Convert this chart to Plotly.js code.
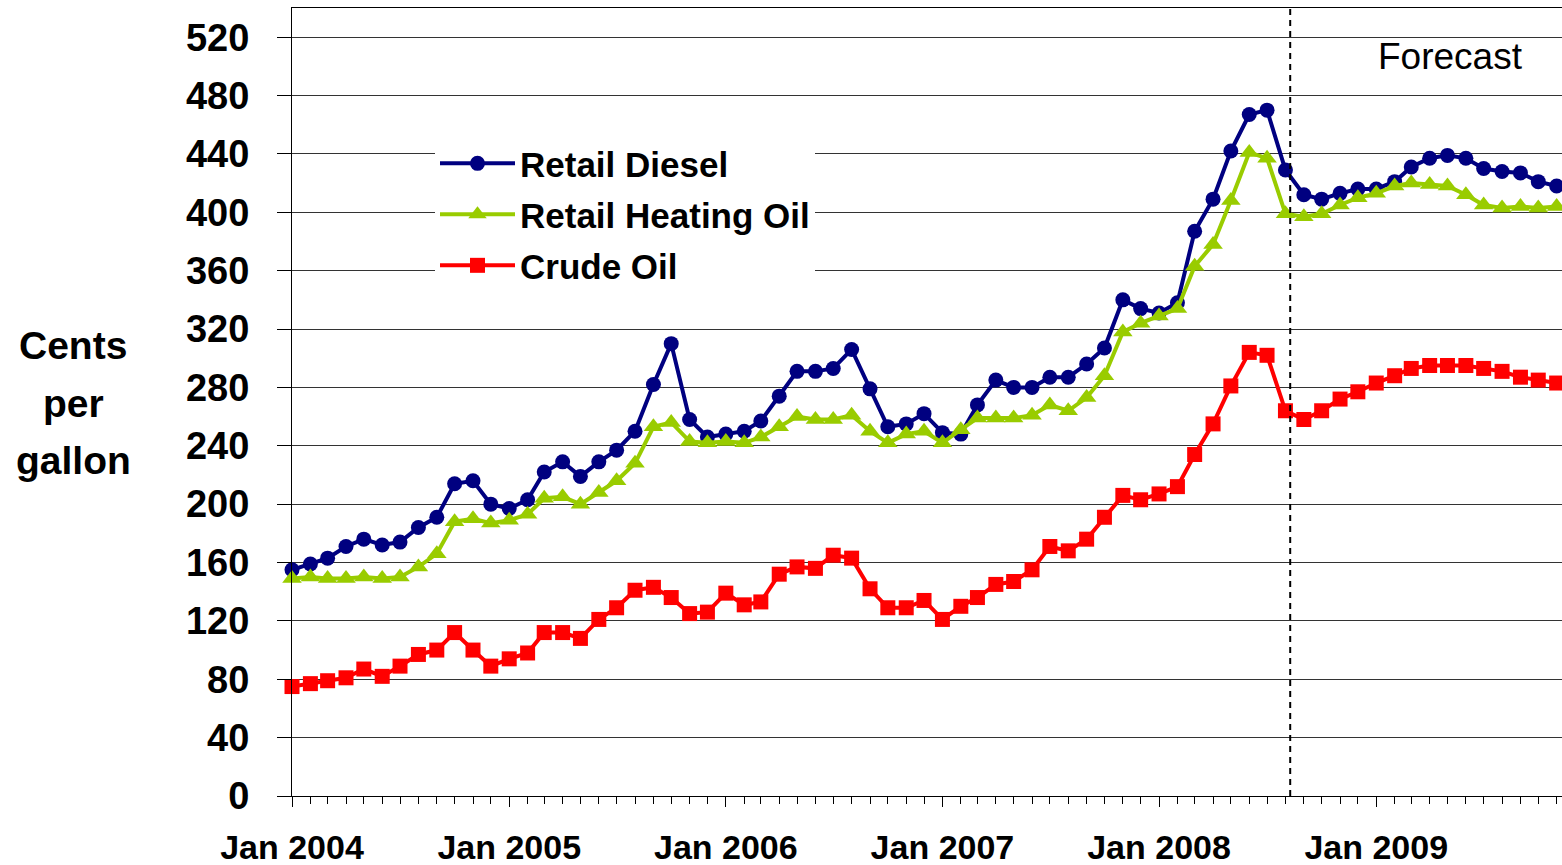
<!DOCTYPE html>
<html>
<head>
<meta charset="utf-8">
<script src="https://cdn.plot.ly/plotly-3.0.1.min.js"></script>
<style>html,body{margin:0;padding:0;background:#fff;}#chart{width:1562px;height:865px;}</style>
</head>
<body>
<div id="chart"></div>
<script>
// Months: Jan 2004 .. Nov 2009
const startYear = 2004;
const nMonths = 71;
const months = [];
for (let i = 0; i < nMonths; i++) {
  const y = startYear + Math.floor(i / 12);
  const m = (i % 12) + 1;
  months.push(y + '-' + String(m).padStart(2, '0') + '-01');
}

const retailDiesel = [
  155,159,163,171,176,172,174,184,191,214,216,200,
  197,203,222,229,219,229,237,250,282,310,258,246,
  248,250,257,274,291,291,293,306,279,253,255,262,
  249,248,268,285,280,280,287,287,296,307,340,334,
  331,338,387,409,442,467,470,429,412,409,413,416,
  416,421,431,437,439,437,430,428,427,421,418
];
const retailHeatingOil = [
  149,150,149,149,150,149,150,157,166,188,190,187,
  189,193,204,205,200,208,216,228,253,256,243,242,
  243,242,246,253,260,258,258,261,250,242,248,250,
  242,251,259,259,259,261,268,264,273,288,318,324,
  329,334,363,378,408,441,437,399,397,399,405,410,
  413,418,420,419,418,412,405,403,404,403,404
];
const crudeOil = [
  75,77,79,81,87,82,89,97,100,112,100,89,
  94,98,112,112,108,121,129,141,143,136,125,126,
  139,131,133,152,157,156,165,163,142,129,129,134,
  121,130,136,145,147,155,171,168,176,191,206,203,
  207,212,234,255,281,304,302,264,258,264,272,277,
  283,288,293,295,295,295,293,291,287,285,283
];
const seriesNames = ['Retail Diesel', 'Retail Heating Oil', 'Crude Oil'];
const yTickVals = [0,40,80,120,160,200,240,280,320,360,400,440,480,520];
const forecastStart = '2008-08-09';

const FONT = '"Liberation Sans", Arial, Helvetica, sans-serif';

const traces = [
  {x: months, y: retailDiesel, name: seriesNames[0], legendgroup: 'a',
   mode: 'lines+markers', cliponaxis: false,
   line: {color: '#000080', width: 4},
   marker: {symbol: 'circle', size: 15, color: '#000080'}},
  {x: months, y: retailHeatingOil, name: seriesNames[1], legendgroup: 'b',
   mode: 'lines+markers', cliponaxis: false,
   line: {color: '#99CC00', width: 4},
   marker: {symbol: 'triangle-up', size: 17, color: '#99CC00'}},
  {x: months, y: crudeOil, name: seriesNames[2], legendgroup: 'c',
   mode: 'lines+markers', cliponaxis: false,
   line: {color: '#FF0000', width: 4},
   marker: {symbol: 'square', size: 15, color: '#FF0000'}}
];

const layout = {
  width: 1562, height: 865,
  margin: {l: 292, r: 0, t: 8, b: 69, pad: 0},
  paper_bgcolor: '#ffffff', plot_bgcolor: '#ffffff',
  font: {family: FONT, color: '#000'},
  showlegend: true,
  legend: {
    x: (435 - 292) / 1270, y: 0.84, xanchor: 'left', yanchor: 'top',
    bgcolor: '#ffffff', borderwidth: 0,
    font: {family: FONT, size: 35, color: '#000', weight: 'bold'},
    itemwidth: 75, tracegroupgap: 2.5, traceorder: 'grouped'
  },
  xaxis: {
    type: 'date',
    range: ['2004-01-01', '2009-11-10'],
    tick0: '2004-01-01', dtick: 'M12', tickformat: '%b %Y',
    ticks: 'outside', ticklen: 10, tickcolor: '#000', tickwidth: 1,
    ticklabelstandoff: 11,
    minor: {dtick: 'M1', ticks: 'outside', ticklen: 7, tickcolor: '#000', tickwidth: 1, showgrid: false},
    showline: true, linecolor: '#000', linewidth: 1, mirror: true,
    showgrid: false, zeroline: false,
    tickfont: {family: FONT, size: 34, color: '#000', weight: 'bold'}
  },
  yaxis: {
    range: [0, 540],
    tickvals: yTickVals, ticktext: yTickVals.map(String),
    ticks: 'outside', ticklen: 14, tickcolor: '#000', tickwidth: 1,
    ticklabelstandoff: 20,
    showline: true, linecolor: '#000', linewidth: 1,
    showgrid: true, gridcolor: '#333', gridwidth: 1,
    zeroline: false,
    tickfont: {family: FONT, size: 38, color: '#000', weight: 'bold'}
  },
  shapes: [{
    type: 'line', xref: 'x', yref: 'paper',
    x0: forecastStart, x1: forecastStart, y0: 0, y1: 1,
    line: {color: '#000', width: 2, dash: '6px,5px'}, layer: 'above'
  }],
  annotations: [
    {text: 'Forecast', xref: 'paper', yref: 'paper',
     x: (1450 - 292) / 1270, y: (796 - 57) / 788, xanchor: 'center', yanchor: 'middle',
     showarrow: false, font: {family: FONT, size: 37, color: '#000'}},
    {text: 'Cents', xref: 'paper', yref: 'paper',
     x: (73 - 292) / 1270, y: (796 - 345) / 788, xanchor: 'center', yanchor: 'middle',
     showarrow: false, font: {family: FONT, size: 39, color: '#000', weight: 'bold'}},
    {text: 'per', xref: 'paper', yref: 'paper',
     x: (73 - 292) / 1270, y: (796 - 403) / 788, xanchor: 'center', yanchor: 'middle',
     showarrow: false, font: {family: FONT, size: 39, color: '#000', weight: 'bold'}},
    {text: 'gallon', xref: 'paper', yref: 'paper',
     x: (73 - 292) / 1270, y: (796 - 460) / 788, xanchor: 'center', yanchor: 'middle',
     showarrow: false, font: {family: FONT, size: 39, color: '#000', weight: 'bold'}}
  ]
};

Plotly.newPlot('chart', traces, layout, {displayModeBar: false, staticPlot: true});
</script>
</body>
</html>
